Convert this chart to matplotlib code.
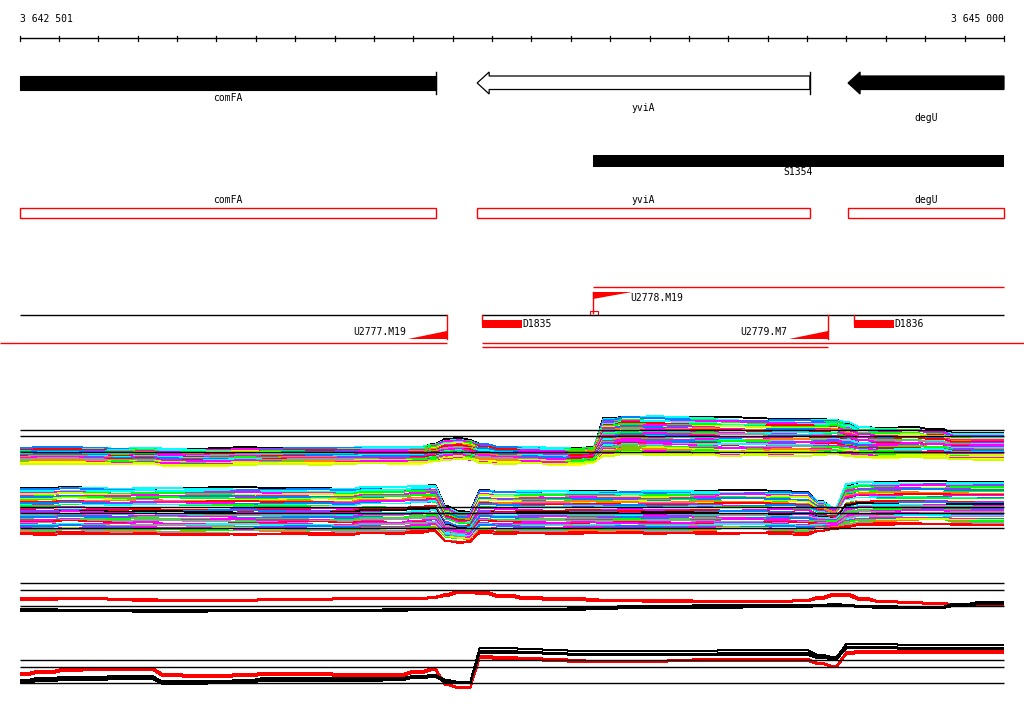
import numpy as np
import matplotlib
matplotlib.use('Agg')
import matplotlib.pyplot as plt
from matplotlib.patches import Polygon, Rectangle

# ---- data -------------------------------------------------------------
START = 3642501
END = 3645000

GENES = ['comFA', 'yviA', 'degU']
GENE_START = [3642501, 3643662, 3644604]
GENE_END = [3643557, 3644507, 3645000]
GENE_FILLED = [True, False, True]
GENE_LABEL_Y = [98, 108, 118]

# transcribed segment
SEG_NAME = 'S1354'
SEG_START = 3643956
SEG_END = 3645000

# upstream / downstream signals
UP_NAMES = ['U2777.M19', 'U2778.M19', 'U2779.M7']
UP_POS = [3643585, 3643956, 3644553]
DOWN_NAMES = ['D1835', 'D1836']
DOWN_POS = [3643674, 3644619]

# tiling probe positions
PROBES = [3642501, 3642565, 3642628, 3642692, 3642755, 3642819, 3642882, 3642946,
          3643009, 3643073, 3643136, 3643200, 3643263, 3643327, 3643390, 3643454,
          3643517, 3643555, 3643581, 3643619, 3643644, 3643669, 3643733, 3643796,
          3643860, 3643923, 3643954, 3643987, 3644050, 3644114, 3644177, 3644241,
          3644304, 3644368, 3644431, 3644495, 3644533, 3644571, 3644604, 3644635,
          3644698, 3644762, 3644825, 3644889, 3644952, 3645000]

# strand 1 bundle: median row and half spread
A_CENTER = [456, 455, 455, 455, 456, 456, 457, 457, 457, 456, 456, 456, 456, 455, 455, 455,
            455, 453, 450, 449, 450, 453, 455, 455, 456, 456, 455, 437, 435, 435, 436, 436,
            437, 437, 437, 437, 437, 437, 439, 442, 443, 443, 444, 446, 446, 446]
A_HALF = [8, 8, 8, 8, 8, 8, 8, 8, 8, 8, 8, 8, 8, 8, 8, 8,
          8, 9, 10, 10, 10, 9, 8, 8, 8, 8, 8, 19, 19, 19, 19, 19,
          19, 18, 18, 18, 18, 18, 17, 15, 15, 15, 14, 13, 13, 13]
A_LEVELS = [-1.0, -0.93, -0.88, -0.8, -0.77, -0.7, -0.62, -0.6, -0.52, -0.47, -0.4, -0.37,
            -0.3, -0.25, -0.2, -0.14, -0.1, -0.05, 0.0, 0.03, 0.08, 0.12, 0.18, 0.22, 0.27,
            0.3, 0.35, 0.4, 0.44, 0.5, 0.55, 0.6, 0.64, 0.7, 0.74, 0.8, 0.85, 0.9, 0.95, 1.0]
A_COLORS = ['k', 'c', 'b', 'g', 'm', 'c', 'r', 'g', 'y', 'm', 'b', 'o', 'r', 'm', 'c', 'g',
            'gr', 'm', 'b', 'r', 'm', 'c', 'o', 'm', 'g', 'b', 'm', 'r', 'c', 'm', 'gr', 'g',
            'm', 'y', 'o', 'g', 'y', 'm', 'yy', 'y']

# strand 2 bundle
B_CENTER = [511, 511, 510, 510, 511, 511, 511, 511, 511, 511, 511, 511, 511, 511, 510, 510,
            509, 508, 524, 527, 527, 511, 512, 512, 512, 512, 512, 512, 512, 512, 512, 512,
            512, 512, 512, 513, 516, 518, 505, 503, 503, 503, 503, 503, 503, 503]
B_HALF = [23, 23, 23, 23, 23, 23, 23, 23, 23, 23, 23, 23, 23, 23, 23, 23,
          23, 23, 17, 15, 15, 21, 21, 21, 21, 21, 21, 21, 21, 21, 21, 21,
          21, 21, 21, 21, 15, 11, 21, 21, 21, 21, 21, 21, 21, 21]
B_LEVELS = [-1.0, -0.96, -0.9, -0.86, -0.8, -0.75, -0.7, -0.66, -0.6, -0.55, -0.5, -0.46,
            -0.4, -0.36, -0.3, -0.26, -0.2, -0.16, -0.1, -0.06, 0.0, 0.04, 0.1, 0.14, 0.2,
            0.24, 0.3, 0.34, 0.4, 0.44, 0.5, 0.54, 0.6, 0.64, 0.7, 0.74, 0.8, 0.84, 0.88,
            0.92, 0.95, 0.97, 0.99, 1.0]
B_COLORS = ['k', 'c', 'b', 'c', 'm', 'g', 'y', 'm', 'b', 'g', 'y', 'o', 'r', 'm', 'b', 'c',
            'g', 'w', 'm', 'r', 'b', 'k', 'm', 'c', 'gr', 'm', 'b', 'g', 'm', 'gr', 'r', 'm',
            'c', 'gr', 'b', 'm', 'y', 'g', 'gr', 'o', 'w', 'gr', 'r', 'r']

# small per-probe jitter
WOBBLE = [
    [0, 0, 0, 1, 1, 1, 0, 0, -1, -1, 0, 0, 0, 1, 1, 0, 0, 0, -1, -1, 0, 0, 1, 1, 0, 0, 0, 0, 1, 1,
     0, 0, -1, -1, 0, 0, 0, 1, 1, 0, 0, -1, -1, 0, 0, 0],
    [1, 1, 0, 0, 0, -1, -1, 0, 0, 1, 1, 1, 0, 0, -1, -1, -1, 0, 0, 0, 1, 0, 0, -1, -1, 0, 0, 0, 0, -1,
     -1, 0, 1, 1, 1, 0, 0, 0, -1, -1, 0, 1, 1, 0, 0, 0],
    [-1, -1, -1, 0, 0, 0, 1, 1, 1, 0, 0, -1, -1, 0, 0, 1, 1, 0, 0, 1, 0, -1, -1, 0, 1, 1, 0, 0, -1, 0,
     0, 1, 1, 0, -1, -1, 0, 0, 1, 1, 1, 0, 0, 1, 1, 1],
    [0, 1, 1, 1, 0, -1, 0, 0, 0, 1, 0, 0, 1, 1, 0, 0, -1, -1, 0, 0, -1, 1, 1, 0, 0, -1, -1, 0, 0, 1,
     0, -1, 0, 0, 1, 1, 0, -1, 0, 0, -1, -1, 0, 0, 1, 1],
]

# summary tracks (two conditions each)
C_RED = [[598, 598, 598, 598, 599, 599, 600, 600, 600, 600, 599, 599, 599, 598, 598, 598,
          598, 597, 594, 591, 591, 592, 595, 597, 598, 598, 599, 600, 600, 600, 600, 601,
          601, 601, 601, 600, 597, 594, 594, 598, 601, 602, 603, 604, 605, 605],
         [600, 600, 599, 599, 600, 601, 601, 601, 601, 601, 600, 600, 600, 599, 599, 599,
          599, 598, 596, 593, 593, 594, 597, 599, 600, 600, 601, 601, 601, 602, 602, 602,
          602, 602, 602, 601, 599, 596, 596, 600, 602, 603, 604, 605, 606, 606]]
C_BLACK = [[609, 609, 610, 610, 610, 610, 610, 610, 610, 610, 610, 610, 610, 610, 610, 609,
            609, 609, 609, 609, 609, 609, 609, 609, 609, 608, 608, 607, 606, 606, 606, 605,
            605, 605, 605, 605, 605, 604, 605, 606, 606, 607, 607, 604, 602, 602],
           [611, 611, 611, 611, 611, 612, 612, 612, 611, 611, 611, 611, 611, 611, 611, 611,
            610, 610, 610, 610, 610, 610, 610, 610, 610, 610, 609, 609, 608, 608, 608, 608,
            608, 607, 607, 607, 606, 606, 606, 607, 608, 608, 608, 606, 604, 604]]
D_RED = [[673, 671, 669, 668, 668, 668, 674, 675, 675, 674, 673, 673, 673, 674, 674, 674,
          671, 668, 684, 687, 687, 656, 657, 658, 659, 660, 661, 661, 661, 661, 660, 659,
          659, 659, 659, 659, 663, 666, 652, 651, 651, 651, 651, 651, 651, 651],
         [675, 673, 671, 670, 670, 670, 676, 677, 677, 676, 675, 675, 675, 676, 676, 676,
          673, 670, 685, 688, 688, 658, 659, 660, 661, 662, 662, 662, 662, 662, 661, 661,
          661, 661, 661, 661, 664, 667, 654, 653, 653, 653, 653, 653, 653, 653]]
D_BLACK = [[680, 678, 677, 677, 676, 676, 682, 682, 681, 680, 678, 678, 678, 678, 678, 678,
            676, 675, 680, 682, 682, 648, 648, 649, 650, 651, 651, 651, 651, 651, 651, 651,
            650, 650, 650, 650, 655, 657, 644, 644, 644, 645, 645, 645, 645, 645],
           [681, 680, 679, 679, 678, 678, 681, 681, 681, 681, 680, 680, 680, 680, 680, 679,
            677, 676, 681, 683, 683, 653, 653, 653, 654, 655, 655, 655, 655, 655, 655, 655,
            655, 655, 655, 655, 658, 659, 648, 648, 648, 649, 649, 649, 649, 649],
           [683, 681, 680, 680, 679, 679, 684, 684, 683, 682, 681, 681, 681, 681, 681, 680,
            678, 677, 682, 683, 683, 651, 651, 652, 653, 654, 654, 654, 654, 654, 654, 654,
            653, 653, 653, 653, 657, 658, 647, 647, 647, 648, 648, 648, 648, 648]]

REF_ROWS = [[430, 436, 452], [507, 513, 528], [583, 590, 606], [660, 667, 683]]

PAL = {'r': '#ff0000', 'm': '#ff00ff', 'c': '#00ffff', 'b': '#0080ff', 'g': '#00ff00',
       'y': '#ccff00', 'yy': '#ffff00', 'o': '#ff8000', 'k': '#000000', 'gr': '#999999',
       'w': '#ffffff'}
FONT = dict(family='DejaVu Sans Mono', fontsize=7, color='black')

# ---- helpers ----------------------------------------------------------
BP_PER_PX = (END - START) / 984.0
X0 = START - 20 * BP_PER_PX
X1 = X0 + 1024 * BP_PER_PX


def step_xy(xs, ys, ramp=12):
    # plateau per probe with a short ramp between probes
    px, py = [xs[0]], [ys[0]]
    for i in range(len(xs) - 1):
        mid = (xs[i] + xs[i + 1]) / 2.0
        r = min(ramp, (xs[i + 1] - xs[i]) / 2.0)
        px += [mid - r, mid + r, xs[i + 1]]
        py += [ys[i], ys[i + 1], ys[i + 1]]
    return px, py


def hline(ax, y, x0, x1, color='black', lw=1.0, z=2):
    ax.plot([x0, x1], [y, y], color=color, lw=lw, zorder=z, solid_capstyle='butt')


def draw_bundle(ax, center, half, levels, colors):
    c = np.array(center, float)
    h = np.array(half, float)
    for i, (q, col) in enumerate(zip(levels, colors)):
        y = c + q * h + np.array(WOBBLE[i % 4]) * 1.0
        px, py = step_xy(PROBES, y)
        ax.plot(px, py, color=PAL[col], lw=0.6, zorder=2, antialiased=False,
                solid_capstyle='butt')


fig = plt.figure(figsize=(10.24, 7.14), dpi=100)
ax = fig.add_axes([0, 0, 1, 1])
ax.set_xlim(X0, X1)
ax.set_ylim(714, 0)
ax.axis('off')

# ruler
hline(ax, 38, START, END)
for t in np.arange(3642500, 3645001, 100):
    ax.plot([t, t], [35.5, 41], color='black', lw=0.9)
ax.text(START, 19, '3 642 501', ha='left', va='center', **FONT)
ax.text(END, 19, '3 645 000', ha='right', va='center', **FONT)

# gene models
head = 12 * BP_PER_PX
for name, s, e, filled, ly in zip(GENES, GENE_START, GENE_END, GENE_FILLED, GENE_LABEL_Y):
    fc = 'black' if filled else 'white'
    if name == 'comFA':
        ax.add_patch(Rectangle((s, 76), e - s, 14, fc=fc, ec='black', lw=0.8))
        ax.plot([e, e], [72, 94], color='black', lw=1)
    else:
        pts = [(s, 83), (s + head, 72), (s + head, 76), (e, 76), (e, 89.5),
               (s + head, 89.5), (s + head, 94)]
        ax.add_patch(Polygon(pts, closed=True, fc=fc, ec='black', lw=0.9))
        if not filled:
            ax.plot([e, e], [72, 94], color='black', lw=1)
    ax.text((s + e) / 2.0, ly, name, ha='center', va='center', **FONT)

ax.add_patch(Rectangle((SEG_START, 155), SEG_END - SEG_START, 12, fc='black', ec='none'))
ax.text((SEG_START + SEG_END) / 2.0, 172, SEG_NAME, ha='center', va='center', **FONT)

# red gene outlines
for name, s, e in zip(GENES, GENE_START, GENE_END):
    ax.add_patch(Rectangle((s, 207.5), e - s, 10, fc='none', ec='#ff0000', lw=1))
    ax.text((s + e) / 2.0, 200, name, ha='center', va='center', **FONT)

# signals
wedge = 39 * BP_PER_PX
hline(ax, 287, UP_POS[1], END, color='#ff0000')
hline(ax, 315, START, UP_POS[0])
hline(ax, 315, DOWN_POS[0], END)
# upstream signals on the reverse strand hang under the line
for name, p in zip([UP_NAMES[0], UP_NAMES[2]], [UP_POS[0], UP_POS[2]]):
    ax.plot([p, p], [315, 339], color='#ff0000', lw=1)
    ax.add_patch(Polygon([(p - wedge, 339), (p, 339), (p, 331)], fc='#ff0000', ec='none'))
    ax.text(p - wedge - 2 * BP_PER_PX, 332, name, ha='right', va='center', **FONT)
p = UP_POS[1]
ax.plot([p, p], [292, 313], color='#ff0000', lw=1)
ax.add_patch(Polygon([(p, 292), (p + wedge, 292), (p, 299)], fc='#ff0000', ec='none'))
ax.add_patch(Rectangle((p - 3 * BP_PER_PX, 311), 8 * BP_PER_PX, 4, fc='none',
                       ec='#ff0000', lw=0.8))
ax.text(p + 37 * BP_PER_PX, 298, UP_NAMES[1], ha='left', va='center', **FONT)
for name, p in zip(DOWN_NAMES, DOWN_POS):
    ax.plot([p, p], [315, 324], color='#ff0000', lw=1)
    ax.add_patch(Rectangle((p, 320), 40 * BP_PER_PX, 8, fc='#ff0000', ec='none'))
    ax.text(p + 40 * BP_PER_PX, 324, name, ha='left', va='center', **FONT)
hline(ax, 343, X0, UP_POS[0], color='#ff0000')
hline(ax, 343, DOWN_POS[0], X1, color='#ff0000')
hline(ax, 346.5, DOWN_POS[0], UP_POS[2], color='#ff0000')

# expression tracks
draw_bundle(ax, A_CENTER, A_HALF, A_LEVELS, A_COLORS)
draw_bundle(ax, B_CENTER, B_HALF, B_LEVELS, B_COLORS)
for rows in C_RED + D_RED:
    px, py = step_xy(PROBES, rows)
    ax.plot(px, py, color='#ff0000', lw=0.7, zorder=2, antialiased=False,
            solid_capstyle='butt')
for rows in C_BLACK + D_BLACK:
    px, py = step_xy(PROBES, rows)
    ax.plot(px, py, color='black', lw=0.7, zorder=2, antialiased=False,
            solid_capstyle='butt')
for rows in REF_ROWS:
    for y in rows:
        hline(ax, y, START, END, z=3)

fig.savefig('out.png', dpi=100)
